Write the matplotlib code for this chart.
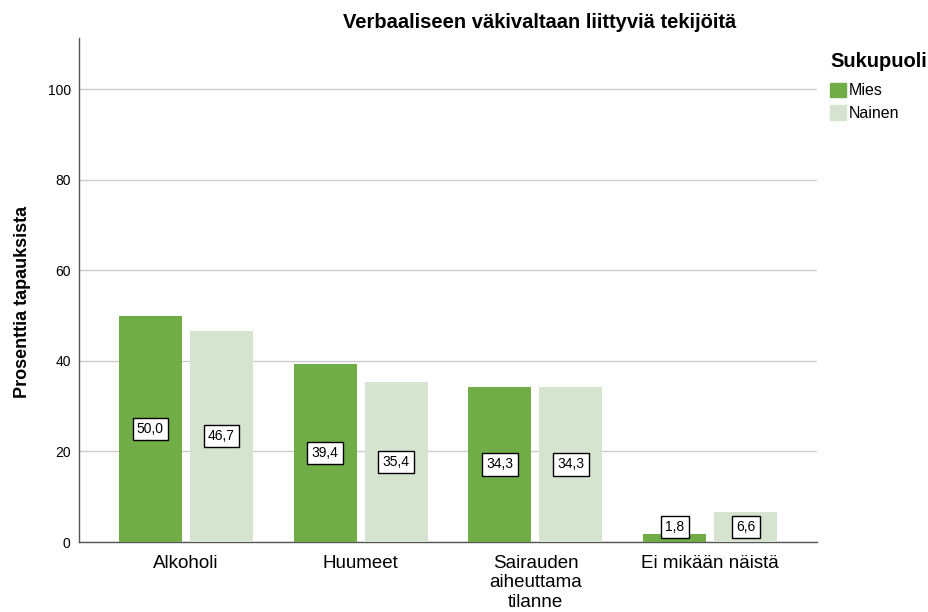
import matplotlib
matplotlib.use("Agg")
import matplotlib.pyplot as plt
import numpy as np
from matplotlib.patches import Patch

categories = ["Alkoholi", "Huumeet", "Sairauden\naiheuttama\ntilanne", "Ei mikään näistä"]
mies = [50.0, 39.4, 34.3, 1.8]
nainen = [46.7, 35.4, 34.3, 6.6]
series_names = ["Mies", "Nainen"]
colors = ["#70AD47", "#D5E3CF"]
yticks = [0, 20, 40, 60, 80, 100]

plt.rcParams['font.family'] = ['Liberation Sans', 'DejaVu Sans']

fig = plt.figure(figsize=(9.29, 6.12), dpi=100)
ax = fig.add_axes([79/929, 1-542/612, (817-79)/929, (542-38)/612])

x = np.arange(len(categories))
w = 0.36
off = 0.203
for vals, o, c in [(mies, -off, colors[0]), (nainen, off, colors[1])]:
    ax.bar(x + o, vals, width=w, color=c, zorder=3)
    for xi, v in zip(x + o, vals):
        ax.text(xi, max(v / 2, 3.3), f"{v:.1f}".replace(".", ","), ha="center", va="center",
                fontsize=10, zorder=5,
                bbox=dict(boxstyle="square,pad=0.3", fc="white", ec="black", lw=1))

ax.set_xlim(-0.61, 3.61)
ax.set_ylim(0, 111.3)
ax.set_yticks(yticks)
ax.set_yticklabels([str(t) for t in yticks], fontsize=10)
ax.yaxis.grid(True, color="#CCCCCC", lw=1, zorder=0)
ax.set_xticks(x)
ax.set_xticklabels(categories, fontsize=13.5, linespacing=1.2)
ax.tick_params(axis="both", length=0)
ax.tick_params(axis="y", pad=6)
ax.tick_params(axis="x", pad=9)
for s in ["top", "right"]:
    ax.spines[s].set_visible(False)
for s in ["left", "bottom"]:
    ax.spines[s].set_color("#555555")
    ax.spines[s].set_linewidth(1)

ax.set_ylabel("Prosenttia tapauksista", fontsize=13, fontweight="bold")
ax.yaxis.set_label_coords(-48/738, 0.476)
fig.text(540/929, 1-22/612, "Verbaaliseen väkivaltaan liittyviä tekijöitä", ha="center", va="center",
         fontsize=14.5, fontweight="bold")

handles = [Patch(color=c) for c in colors]
leg = fig.legend(handles, series_names, loc="upper left", bbox_to_anchor=(824/929, 1-46/612),
                 frameon=False, fontsize=11.5, title="Sukupuoli",
                 title_fontproperties={"weight": "bold", "size": 14.5},
                 handlelength=1.0, handleheight=1.0, handletextpad=0.15, labelspacing=0.45,
                 borderaxespad=0, alignment="left")
leg._legend_box.sep = 8

fig.savefig("out.png", dpi=100)
